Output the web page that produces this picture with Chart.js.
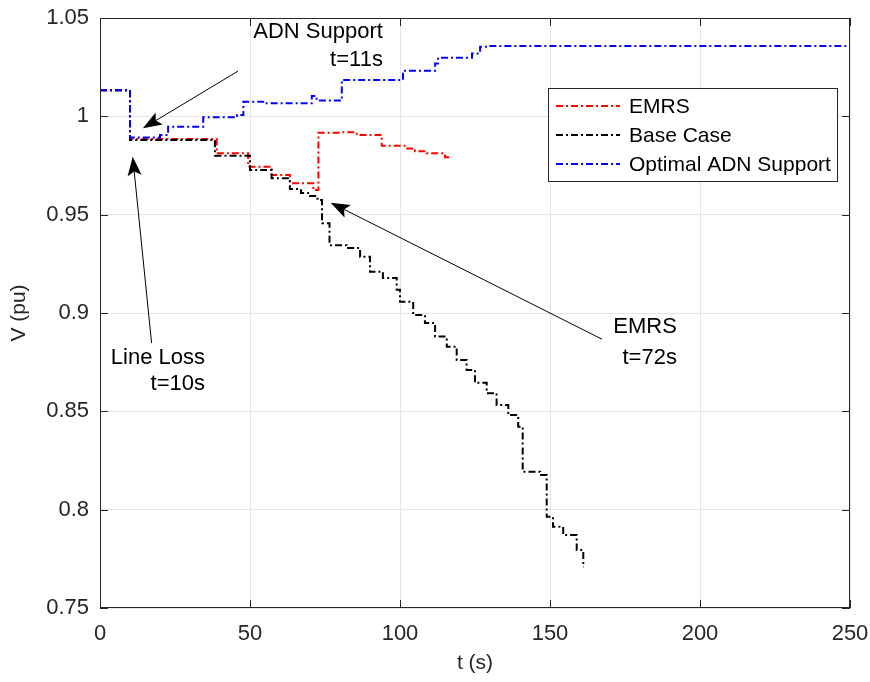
<!DOCTYPE html>
<html>
<head>
<meta charset="utf-8">
<script src="https://cdn.jsdelivr.net/npm/chart.js@4.4.1/dist/chart.umd.min.js"></script>
<style>
  html, body { margin: 0; padding: 0; background: #fff; }
  #wrap { width: 870px; height: 682px; }
</style>
</head>
<body>
<div id="wrap"><canvas id="vChart" width="870" height="682"></canvas></div>
<script>
// step series: time of step (s) and voltage after it (pu)
const emrsT = [0, 10, 38.9, 49.4, 57.2, 63.3, 71.1, 72.8, 80, 85.6, 93.9, 102, 105, 108.9, 115, 116.7];
const emrsV = [1.0133, 0.9885, 0.9812, 0.9744, 0.9702, 0.9660, 0.9625, 0.9917, 0.9919, 0.9905, 0.9850, 0.9837, 0.9823, 0.9812, 0.9792, 0.9792];

const baseT = [0, 10, 38.3, 50, 57.2, 63.3, 67, 70, 72.5, 74, 76.5, 82.2, 86.7, 90, 94.3, 98.9, 100, 104.4,
  108.3, 111.7, 115.6, 118.9, 122.2, 125, 128.9, 132.2, 136.1, 139.4, 140.9, 146.7, 148.9, 151, 154.4, 158.9, 161.1, 161.3];
const baseV = [1.0133, 0.9880, 0.9800, 0.9727, 0.9685, 0.9630, 0.9610, 0.9595, 0.9574, 0.9456, 0.9345, 0.9330, 0.9286, 0.9210, 0.9178, 0.9118, 0.9057, 0.8990,
  0.8949, 0.8880, 0.8829, 0.8761, 0.8710, 0.8645, 0.8592, 0.8532, 0.8481, 0.8422, 0.8193, 0.8176, 0.7964, 0.7913, 0.7871, 0.7795, 0.7710, 0.7710];

const adnT = [0, 10, 20, 22.7, 34.4, 45.7, 47.8, 55, 70.6, 72.2, 80.6, 101, 111.7, 112.7, 124, 126.7, 129, 250];
const adnV = [1.0133, 0.9893, 0.9905, 0.9947, 0.9995, 1.0007, 1.0074, 1.0066, 1.0103, 1.0080, 1.0185, 1.0232, 1.0269, 1.0298, 1.0320, 1.0354, 1.0357, 1.0357];

const seriesNames = ["EMRS", "Base Case", "Optimal ADN Support"];
const seriesColors = ["#ff0000", "#000000", "#0000ff"];

const xTicks = [0, 50, 100, 150, 200, 250];
const yTicks = [0.75, 0.8, 0.85, 0.9, 0.95, 1, 1.05];

// text callouts: label lines, anchor of the text (right edge), arrow tail and head, all in data units
const callouts = [
  { lines: ["ADN Support", "t=11s"], textT: 94.3, textV: [1.0429, 1.0286], tail: [46, 1.0230], head: [14.3, 0.9939] },
  { lines: ["Line Loss", "t=10s"], textT: 35, textV: [0.8771, 0.8639], tail: [17.2, 0.8847], head: [10.9, 0.9795] },
  { lines: ["EMRS", "t=72s"], textT: 192.3, textV: [0.8929, 0.8771], tail: [167.3, 0.8867], head: [76.9, 0.9561] }
];

const FONT = "'Liberation Sans', Arial, Helvetica, sans-serif";
const DASH = [7, 3, 2, 3];

function toPoints(ts, vs) {
  return ts.map((t, i) => ({ x: t, y: vs[i] }));
}

function drawArrow(ctx, x1, y1, x2, y2) {
  const ang = Math.atan2(y2 - y1, x2 - x1);
  const len = 19, half = 7, back = 4;
  ctx.save();
  ctx.strokeStyle = "#000";
  ctx.fillStyle = "#000";
  ctx.lineWidth = 1;
  ctx.beginPath();
  ctx.moveTo(x1, y1);
  ctx.lineTo(x2 - Math.cos(ang) * (len - back), y2 - Math.sin(ang) * (len - back));
  ctx.stroke();
  ctx.translate(x2, y2);
  ctx.rotate(ang);
  ctx.beginPath();
  ctx.moveTo(0, 0);
  ctx.lineTo(-len, -half);
  ctx.lineTo(-len + back, 0);
  ctx.lineTo(-len, half);
  ctx.closePath();
  ctx.fill();
  ctx.restore();
}

const extras = {
  id: "extras",
  afterDatasetsDraw(chart) {
    const ctx = chart.ctx;
    const area = chart.chartArea;
    const xs = chart.scales.x, ys = chart.scales.y;

    // box and inner tick marks
    ctx.save();
    ctx.strokeStyle = "#262626";
    ctx.lineWidth = 1;
    ctx.strokeRect(area.left + 0.5, area.top + 0.5, area.right - area.left - 1, area.bottom - area.top - 1);
    ctx.beginPath();
    xTicks.forEach(t => {
      const px = Math.round(xs.getPixelForValue(t)) + 0.5;
      ctx.moveTo(px, area.bottom); ctx.lineTo(px, area.bottom - 8);
      ctx.moveTo(px, area.top); ctx.lineTo(px, area.top + 8);
    });
    yTicks.forEach(v => {
      const py = Math.round(ys.getPixelForValue(v)) + 0.5;
      ctx.moveTo(area.left, py); ctx.lineTo(area.left + 8, py);
      ctx.moveTo(area.right, py); ctx.lineTo(area.right - 8, py);
    });
    ctx.stroke();
    ctx.restore();

    // callouts
    ctx.save();
    ctx.font = "22px " + FONT;
    ctx.fillStyle = "#000";
    ctx.textAlign = "right";
    ctx.textBaseline = "middle";
    callouts.forEach(c => {
      c.lines.forEach((s, i) => {
        ctx.fillText(s, xs.getPixelForValue(c.textT), ys.getPixelForValue(c.textV[i]));
      });
      drawArrow(ctx,
        xs.getPixelForValue(c.tail[0]), ys.getPixelForValue(c.tail[1]),
        xs.getPixelForValue(c.head[0]), ys.getPixelForValue(c.head[1]));
    });
    ctx.restore();

    // legend box
    const lx = area.right - 302, ly = area.top + 70, lw = 289, lh = 93;
    ctx.save();
    ctx.fillStyle = "#fff";
    ctx.fillRect(lx, ly, lw, lh);
    ctx.strokeStyle = "#262626";
    ctx.lineWidth = 1;
    ctx.strokeRect(lx + 0.5, ly + 0.5, lw, lh);
    ctx.font = "21px " + FONT;
    ctx.textAlign = "left";
    ctx.textBaseline = "middle";
    seriesNames.forEach((name, i) => {
      const cy = ly + 18 + i * 29;
      ctx.strokeStyle = seriesColors[i];
      ctx.lineWidth = 2;
      ctx.setLineDash(DASH);
      ctx.beginPath();
      ctx.moveTo(lx + 8, cy);
      ctx.lineTo(lx + 72, cy);
      ctx.stroke();
      ctx.setLineDash([]);
      ctx.fillStyle = "#000";
      ctx.fillText(name, lx + 81, cy + 1);
    });
    ctx.restore();
  }
};

const commonLine = {
  borderWidth: 2,
  borderDash: DASH,
  pointRadius: 0,
  stepped: true,
  fill: false,
  tension: 0
};

new Chart(document.getElementById("vChart").getContext("2d"), {
  type: "line",
  data: {
    datasets: [
      Object.assign({ label: seriesNames[0], data: toPoints(emrsT, emrsV), borderColor: seriesColors[0], order: 2 }, commonLine),
      Object.assign({ label: seriesNames[1], data: toPoints(baseT, baseV), borderColor: seriesColors[1], order: 1 }, commonLine),
      Object.assign({ label: seriesNames[2], data: toPoints(adnT, adnV), borderColor: seriesColors[2], order: 0 }, commonLine)
    ]
  },
  options: {
    responsive: false,
    animation: false,
    layout: { padding: { top: 18, right: 20, left: 0, bottom: 0 } },
    plugins: {
      legend: { display: false },
      tooltip: { enabled: false }
    },
    scales: {
      x: {
        type: "linear",
        min: 0,
        max: 250,
        afterBuildTicks: s => { s.ticks = xTicks.map(v => ({ value: v })); },
        afterFit: s => { s.height = 74; s.paddingLeft = 0; s.paddingRight = 0; },
        grid: { color: "#e5e5e5", lineWidth: 1, drawTicks: false },
        border: { display: false },
        ticks: {
          color: "#262626",
          padding: 13,
          font: { family: FONT, size: 22 },
          maxRotation: 0,
          callback: v => String(v)
        },
        title: {
          display: true,
          text: "t (s)",
          color: "#262626",
          font: { family: FONT, size: 21 },
          padding: { top: 0, bottom: 6 }
        }
      },
      y: {
        type: "linear",
        min: 0.75,
        max: 1.05,
        afterBuildTicks: s => { s.ticks = yTicks.map(v => ({ value: v })); },
        afterFit: s => { s.width = 100; s.paddingTop = 0; s.paddingBottom = 0; },
        grid: { color: "#e5e5e5", lineWidth: 1, drawTicks: false },
        border: { display: false },
        ticks: {
          color: "#262626",
          padding: 11,
          font: { family: FONT, size: 22 },
          callback: v => String(Math.round(v * 100) / 100)
        },
        title: {
          display: true,
          text: "V (pu)",
          color: "#262626",
          font: { family: FONT, size: 21 },
          padding: { top: 7, bottom: 0 }
        }
      }
    }
  },
  plugins: [extras]
});
</script>
</body>
</html>
